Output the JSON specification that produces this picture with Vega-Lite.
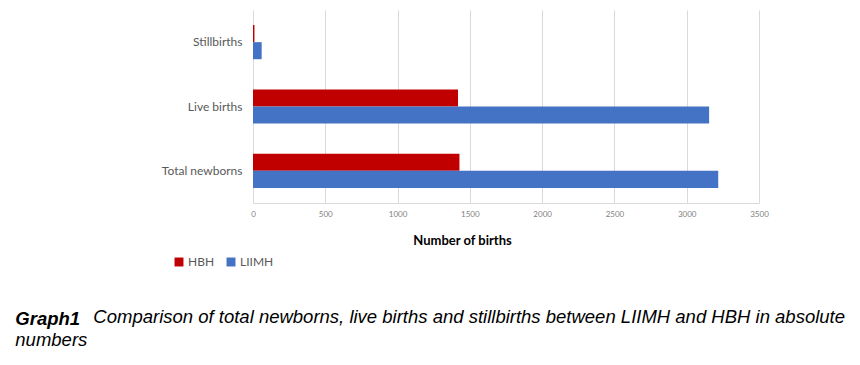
{
  "$schema": "https://vega.github.io/schema/vega-lite/v6.json",
  "padding": {"left": 15, "top": 10, "right": 5, "bottom": 5},
  "autosize": {"type": "pad"},
  "background": "white",
  "config": {"view": {"stroke": null}, "concat": {"spacing": 0}},
  "title": {
    "text": "Comparison of total newborns, live births and stillbirths between LIIMH and HBH in absolute",
    "orient": "bottom",
    "anchor": "start",
    "dx": 78,
    "dy": -41,
    "font": "Liberation Sans",
    "fontSize": 18.5,
    "fontStyle": "italic",
    "fontWeight": "normal",
    "color": "black",
    "offset": 0
  },
  "vconcat": [
    {
      "width": 506,
      "height": 193,
      "title": {
        "text": "Graph1",
        "subtitle": "numbers",
        "orient": "bottom",
        "anchor": "start",
        "dx": -146,
        "offset": 63,
        "font": "Liberation Sans",
        "fontSize": 18.5,
        "fontStyle": "italic",
        "fontWeight": "bold",
        "color": "black",
        "subtitleFont": "Liberation Sans",
        "subtitleFontSize": 18.5,
        "subtitleFontStyle": "italic",
        "subtitleColor": "black",
        "subtitlePadding": 2
      },
      "data": {
        "values": [
          {"category": "Stillbirths", "hospital": "HBH", "births": 10},
          {"category": "Stillbirths", "hospital": "LIIMH", "births": 60},
          {"category": "Live births", "hospital": "HBH", "births": 1418},
          {"category": "Live births", "hospital": "LIIMH", "births": 3155},
          {"category": "Total newborns", "hospital": "HBH", "births": 1428},
          {"category": "Total newborns", "hospital": "LIIMH", "births": 3218}
        ]
      },
      "mark": {"type": "bar"},
      "encoding": {
        "y": {
          "field": "category",
          "type": "nominal",
          "sort": ["Stillbirths", "Live births", "Total newborns"],
          "scale": {"paddingInner": 0.47, "paddingOuter": 0.235},
          "axis": {
            "title": null,
            "domain": false,
            "ticks": false,
            "labelPadding": 11,
            "labelFont": "Lato",
            "labelFontSize": 12,
            "labelColor": "#595959"
          }
        },
        "yOffset": {
          "field": "hospital",
          "type": "nominal",
          "sort": ["HBH", "LIIMH"]
        },
        "x": {
          "field": "births",
          "type": "quantitative",
          "scale": {"domain": [0, 3500]},
          "axis": {
            "values": [0, 500, 1000, 1500, 2000, 2500, 3000, 3500],
            "format": "d",
            "title": "Number of births",
            "titleFont": "Lato",
            "titleFontSize": 13,
            "titleFontWeight": "bold",
            "titleColor": "black",
            "titleX": 209,
            "titleY": 37,
            "titleBaseline": "middle",
            "labelFont": "Lato",
            "labelFontSize": 8,
            "labelColor": "#7f7f7f",
            "labelPadding": 7,
            "ticks": false,
            "domainColor": "#d9d9d9",
            "gridColor": "#d9d9d9",
            "labelFlush": false
          }
        },
        "color": {
          "field": "hospital",
          "type": "nominal",
          "scale": {"domain": ["HBH", "LIIMH"], "range": ["#C00000", "#4472C4"]},
          "legend": {
            "title": null,
            "orient": "none",
            "direction": "horizontal",
            "legendX": -80,
            "legendY": 246,
            "symbolType": "square",
            "symbolSize": 80,
            "symbolStrokeWidth": 0,
            "labelFont": "Lato",
            "labelFontSize": 12,
            "labelColor": "#595959",
            "columnPadding": 10,
            "labelOffset": 3
          }
        }
      }
    }
  ]
}
